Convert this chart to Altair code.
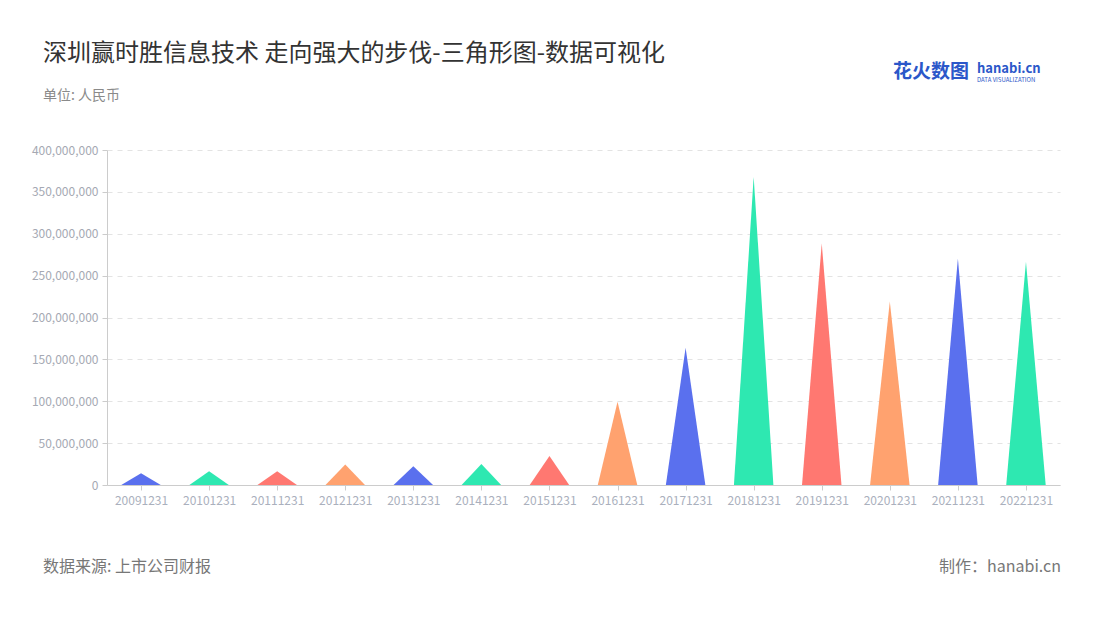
import altair as alt
import pandas as pd

categories = ["20091231", "20101231", "20111231", "20121231", "20131231", "20141231",
              "20151231", "20161231", "20171231", "20181231", "20191231", "20201231",
              "20211231", "20221231"]
values = [14e6, 16.5e6, 16.5e6, 24.5e6, 22.5e6, 25e6, 34.5e6, 99.5e6, 164e6, 368e6,
          288.5e6, 219e6, 270.5e6, 266.5e6]
palette = ["#5a70ee", "#2ee8b1", "#ff7871", "#ffa26f"]

FONT = "Noto Sans CJK SC"
HALF = 0.29

rows = []
for i, (c, v) in enumerate(zip(categories, values)):
    rows.append({"cat": c, "x": i - HALF, "y": 0})
    rows.append({"cat": c, "x": i, "y": v})
    rows.append({"cat": c, "x": i + HALF, "y": 0})
df = pd.DataFrame(rows)

colors = [palette[i % len(palette)] for i in range(len(categories))]
label_js = "[" + ",".join("'%s'" % c for c in categories) + "]"

x_enc = alt.X("x:Q", scale=alt.Scale(domain=[-0.5, len(categories) - 0.5], nice=False, zero=False),
              axis=alt.Axis(values=list(range(len(categories))),
                            labelExpr=label_js + "[round(datum.value)]",
                            title=None, grid=False, domainColor="#cccccc", tickColor="#cccccc",
                            tickSize=5, labelColor="#aab0bd", labelFontSize=12, labelFont=FONT,
                            labelPadding=5, labelFlush=False, labelOverlap=False))
y_enc = alt.Y("y:Q", stack=None, scale=alt.Scale(domain=[0, 400e6], nice=False),
              axis=alt.Axis(values=[i * 50e6 for i in range(9)],
                            labelExpr="format(datum.value, ',')", title=None,
                            grid=True, gridDash=[5, 5], gridColor="#e3e3e3",
                            domainColor="#cccccc", tickColor="#cccccc", tickSize=5,
                            labelColor="#a5a9b3", labelFontSize=12, labelFont=FONT,
                            labelPadding=4))

tri = alt.Chart(df).mark_area(opacity=1).encode(
    x=x_enc, y=y_enc,
    color=alt.Color("cat:N", scale=alt.Scale(domain=categories, range=colors), legend=None),
    detail="cat:N",
)

def txt(s, x, y, size, color, align="left", weight="normal"):
    return alt.Chart(pd.DataFrame({"t": [s]})).mark_text(
        align=align, baseline="middle", fontSize=size, color=color, font=FONT,
        fontWeight=weight).encode(text="t:N", x=alt.value(x), y=alt.value(y))

title = txt("深圳赢时胜信息技术 走向强大的步伐-三角形图-数据可视化", -64, -96, 24, "#333333")
sub = txt("单位: 人民币", -64, -54, 14, "#8a8a8a")
src = txt("数据来源: 上市公司财报", -64, 417, 16, "#777777")
made = txt("制作：hanabi.cn", 954, 417, 16, "#777777", align="right")
logo1 = txt("花火数图", -214 + 1000, -78, 19, "#2b57c9", weight="bold")
logo2 = txt("hanabi.cn", -130 + 1000, -81, 13, "#2b57c9", weight="bold")
logo3 = txt("DATA VISUALIZATION", -130 + 1000, -70, 6, "#2b57c9")

chart = alt.layer(tri, title, sub, src, made, logo1, logo2, logo3).properties(
    width=953, height=335,
    background="white",
    autosize=alt.AutoSizeParams(type="none"),
    padding={"left": 99, "top": 142, "right": 30, "bottom": 110},
).configure_view(strokeWidth=0)

chart.save("out.html", embed_options={"renderer": "svg", "actions": False})
